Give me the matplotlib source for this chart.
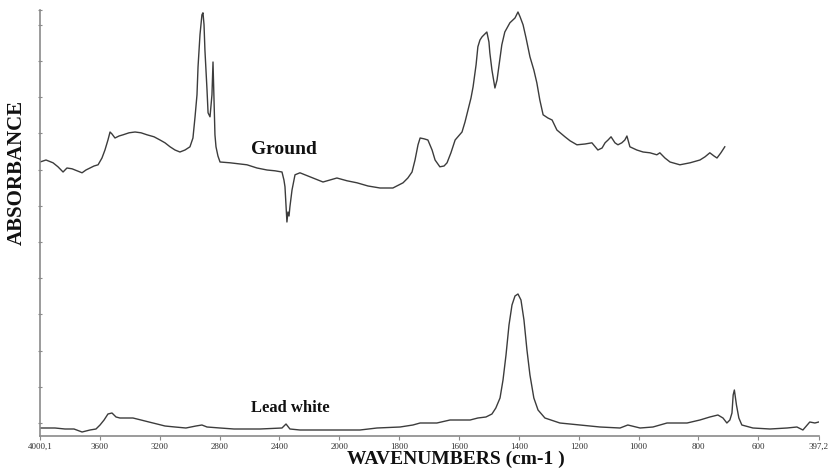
import numpy as np
import matplotlib
matplotlib.use("Agg")
import matplotlib.pyplot as plt

# FTIR absorbance spectra: wavenumber (cm-1) and absorbance (a.u.)
ground_wn = [4000, 3960, 3913, 3880, 3846, 3820, 3786, 3753, 3719, 3693, 3666, 3639,
             3612, 3586, 3566, 3546, 3532, 3519, 3499, 3472, 3445, 3405, 3365, 3325,
             3285, 3238, 3198, 3165, 3131, 3098, 3065, 3031, 2998, 2978, 2964, 2951,
             2944, 2931, 2918, 2911, 2904, 2898, 2884, 2877, 2864, 2851, 2844, 2837,
             2831, 2824, 2811, 2797, 2730, 2664, 2617, 2550, 2483, 2430, 2383, 2370,
             2363, 2356, 2350, 2343, 2336, 2330, 2316, 2296, 2263, 2196, 2109, 2016,
             1974, 1941, 1904, 1864, 1821, 1787, 1771, 1757, 1747, 1737, 1730, 1717,
             1704, 1690, 1680, 1664, 1650, 1640, 1627, 1613, 1590, 1580, 1570, 1560,
             1553, 1543, 1537, 1530, 1523, 1507, 1500, 1497, 1490, 1480, 1473, 1463,
             1457, 1447, 1430, 1413, 1403, 1396, 1386, 1376, 1363, 1350, 1340, 1330,
             1319, 1303, 1289, 1273, 1246, 1229, 1206, 1179, 1156, 1136, 1122, 1112,
             1102, 1092, 1079, 1069, 1056, 1046, 1039, 1029, 1006, 985, 962, 939,
             929, 912, 895, 862, 828, 795, 778, 762, 748, 738, 725, 712]
ground_abs = [0.685, 0.690, 0.683, 0.673, 0.660, 0.670, 0.668, 0.663, 0.658, 0.665, 0.670, 0.675,
              0.678, 0.695, 0.715, 0.740, 0.760, 0.755, 0.745, 0.750, 0.753, 0.758, 0.760, 0.758,
              0.753, 0.748, 0.740, 0.733, 0.723, 0.715, 0.710, 0.715, 0.723, 0.745, 0.798, 0.853,
              0.923, 1.003, 1.053, 1.058, 1.028, 0.965, 0.865, 0.808, 0.798, 0.853, 0.935, 0.840,
              0.753, 0.723, 0.700, 0.685, 0.683, 0.680, 0.678, 0.670, 0.665, 0.663, 0.660, 0.640,
              0.623, 0.578, 0.535, 0.560, 0.550, 0.573, 0.615, 0.653, 0.658, 0.648, 0.635, 0.645,
              0.638, 0.633, 0.625, 0.620, 0.620, 0.633, 0.645, 0.660, 0.690, 0.728, 0.745, 0.743,
              0.740, 0.715, 0.690, 0.673, 0.675, 0.683, 0.708, 0.740, 0.760, 0.785, 0.815, 0.845,
              0.873, 0.928, 0.973, 0.990, 0.998, 1.010, 0.985, 0.958, 0.915, 0.870, 0.890, 0.945,
              0.978, 1.010, 1.033, 1.045, 1.060, 1.048, 1.028, 0.995, 0.948, 0.915, 0.883, 0.840,
              0.803, 0.795, 0.790, 0.765, 0.748, 0.738, 0.728, 0.730, 0.733, 0.715, 0.720, 0.733,
              0.740, 0.748, 0.733, 0.728, 0.733, 0.740, 0.750, 0.723, 0.715, 0.710, 0.708, 0.703,
              0.708, 0.695, 0.685, 0.678, 0.683, 0.690, 0.698, 0.708, 0.700, 0.695, 0.708, 0.723]

lead_wn = [4000, 3900, 3833, 3773, 3719, 3666, 3626, 3599, 3572, 3546, 3519, 3492,
           3466, 3419, 3379, 3325, 3272, 3218, 3165, 3098, 3025, 2958, 2918, 2884,
           2797, 2704, 2530, 2383, 2356, 2330, 2263, 2136, 1998, 1931, 1874, 1797,
           1754, 1730, 1674, 1630, 1563, 1537, 1510, 1490, 1477, 1463, 1453, 1443,
           1433, 1423, 1413, 1403, 1393, 1383, 1373, 1363, 1350, 1336, 1313, 1263,
           1196, 1129, 1062, 1036, 995, 952, 905, 838, 795, 762, 735, 718,
           705, 695, 688, 684, 680, 673, 665, 655, 618, 561, 504, 471,
           451, 428, 411, 398]
lead_abs = [0.020, 0.020, 0.0175, 0.0175, 0.010, 0.015, 0.0175, 0.0275, 0.040, 0.055, 0.0575, 0.0475,
            0.045, 0.045, 0.045, 0.040, 0.035, 0.030, 0.025, 0.0225, 0.020, 0.025, 0.0275, 0.0225,
            0.020, 0.0175, 0.0175, 0.020, 0.030, 0.0175, 0.015, 0.015, 0.015, 0.015, 0.020, 0.0225,
            0.0275, 0.0325, 0.0325, 0.040, 0.040, 0.045, 0.0475, 0.055, 0.070, 0.095, 0.140, 0.2025,
            0.2775, 0.3275, 0.350, 0.355, 0.340, 0.290, 0.215, 0.1525, 0.095, 0.065, 0.045, 0.0325,
            0.0275, 0.0225, 0.020, 0.0275, 0.020, 0.0225, 0.0325, 0.0325, 0.040, 0.0475, 0.0525, 0.045,
            0.0325, 0.040, 0.0575, 0.1025, 0.115, 0.0775, 0.045, 0.0275, 0.020, 0.0175, 0.020, 0.0225,
            0.015, 0.035, 0.0325, 0.035]

tick_wn = [4000.1, 3600, 3200, 2800, 2400, 2000, 1800, 1600, 1400, 1200, 1000, 800, 600, 397.2]
tick_text = ["4000,1", "3600", "3200", "2800", "2400", "2000", "1800", "1600",
             "1400", "1200", "1000", "800", "600", "397,2"]


# wavenumber axis: the region above 2000 cm-1 is compressed by a factor of two
def fwd(w):
    w = np.asarray(w, dtype=float)
    return np.where(w > 2000, 2000 + (w - 2000) / 2.0, w)


def inv(u):
    u = np.asarray(u, dtype=float)
    return np.where(u > 2000, 2000 + (u - 2000) * 2.0, u)


fig = plt.figure(figsize=(8.3, 4.7), dpi=100)
ax = fig.add_axes([40 / 830, 34 / 470, 779 / 830, 426 / 470])

line_col = "#3c3c3c"
ax.plot(ground_wn, ground_abs, color=line_col, lw=1.0)
ax.plot(lead_wn, lead_abs, color=line_col, lw=1.0)

ax.set_xscale("function", functions=(fwd, inv))
ax.set_xlim(4000.1, 397.2)
ax.set_ylim(0, 1.065)

ax.set_xticks(tick_wn)
ax.set_xticklabels(tick_text)
ax.set_yticks(list(0.0325 + 0.0905 * np.arange(12)) + [1.065])
ax.set_yticklabels([])

for side in ("top", "right"):
    ax.spines[side].set_visible(False)
for side in ("left", "bottom"):
    ax.spines[side].set_color("#8a8a8a")
    ax.spines[side].set_linewidth(1.2)

ax.tick_params(axis="x", direction="out", length=3, width=0.8, color="#8a8a8a",
               labelsize=6.5, labelcolor="#333333", pad=2)
ax.tick_params(axis="y", direction="inout", length=3, width=0.8, color="#8a8a8a")
for lbl in ax.get_xticklabels():
    lbl.set_fontfamily("Liberation Serif")

serif_bold = dict(family="Liberation Serif", fontweight="bold", color="#111111")
fig.text(456 / 830, 1 - 459 / 470, "WAVENUMBERS (cm-1 )", ha="center", va="center",
         fontsize=14, **serif_bold)
fig.text(17 / 830, 1 - 173 / 470, "ABSORBANCE", ha="center", va="center",
         rotation=90, fontsize=15, **serif_bold)
fig.text(284 / 830, 1 - 150 / 470, "Ground", ha="center", va="center",
         fontsize=14, **serif_bold)
fig.text(290 / 830, 1 - 408 / 470, "Lead white", ha="center", va="center",
         fontsize=12, **serif_bold)

fig.savefig("out.png", dpi=100)
